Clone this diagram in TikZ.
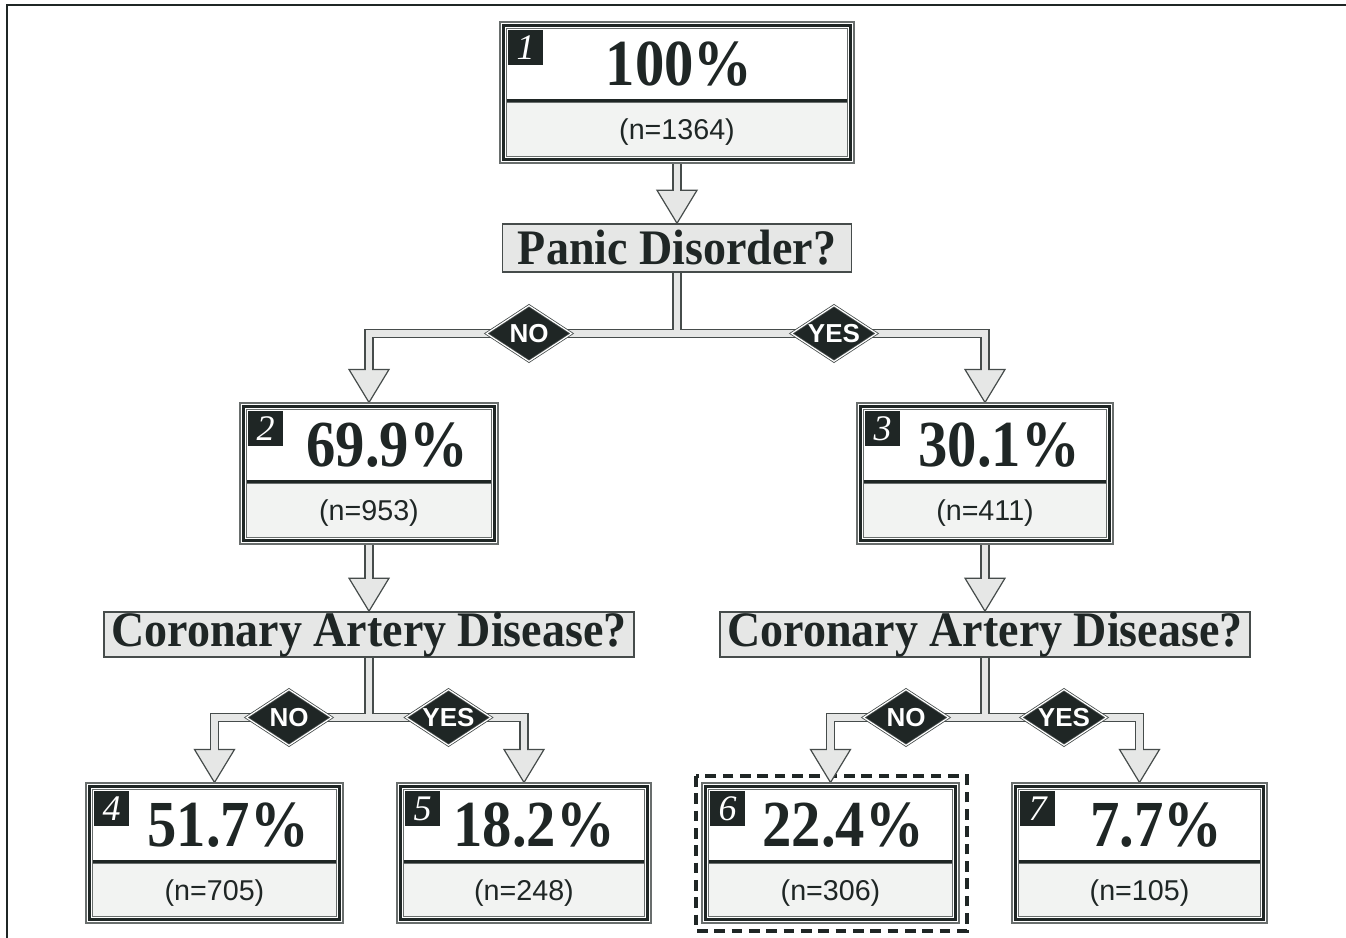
\documentclass[tikz,border=0pt]{standalone}
\usepackage{fontspec}
\usepackage{graphicx}
\setmainfont{Liberation Serif}
\setsansfont{Liberation Sans}
\usetikzlibrary{shapes.geometric,calc}
\definecolor{ink}{RGB}{31,38,37}
\definecolor{pipeline}{RGB}{70,76,75}
\definecolor{pipefill}{RGB}{230,231,230}
\definecolor{subfill}{RGB}{242,243,242}
\definecolor{edgegray}{RGB}{105,110,109}
\pgfdeclarelayer{pipes}
\pgfsetlayers{pipes,main}
\newcommand\zerobox[1]{\makebox[0pt]{\raisebox{-0.5\height}[0pt][0pt]{#1}}}
\tikzset{
  boxnode/.style={draw=edgegray, line width=0.8pt, fill=white, inner sep=0pt, rectangle},
  badgest/.style={fill=ink, text=white, inner sep=0pt, minimum width=26.25pt, minimum height=26.25pt, font=\fontsize{27}{27}\selectfont\itshape},
  pctst/.style={inner sep=0pt, text=ink, font=\fontsize{44}{44}\selectfont\bfseries},
  nst/.style={inner sep=0pt, text=ink, font=\sffamily\fontsize{21.5}{22}\selectfont},
  qst/.style={draw=pipeline, line width=1.1pt, fill=pipefill, inner sep=0pt, text=ink, font=\fontsize{34.5}{35}\selectfont\bfseries},
  dst/.style={diamond, fill=ink, draw=pipeline, double=white, double distance=0.9pt, line width=0.6pt, inner sep=0pt, minimum width=64pt, minimum height=42pt, text=white, font=\sffamily\bfseries\fontsize{19.5}{19.5}\selectfont},
  pipeo/.style={draw=pipeline, line width=7.1pt, line join=miter},
  pipei/.style={draw=pipefill, line width=4.8pt, line join=miter},
  headst/.style={fill=pipefill, draw=pipeline, line width=0.9pt, line join=miter},
  hilite/.style={draw=ink, line width=2.3pt, dash pattern=on 8pt off 5pt},
}
% name, x1, y1, x2, y2, number, percent, percent x, n text
\newcommand\mkbox[9]{%
  \node[boxnode, minimum width={(#4-#2)*0.75pt}, minimum height={(#5-#3)*0.75pt}] (#1) at ({(#2+#4)/2},{(#3+#5)/2}) {};
  \fill[subfill] (#2+6,#3+79) rectangle (#4-6,#5-6);
  \draw[ink, line width=1.6pt] (#2+6,#3+78.5) -- (#4-6,#3+78.5);
  \draw[edgegray, line width=0.6pt] (#2+6,#3+80.8) -- (#4-6,#3+80.8);
  \draw[ink, line width=1.9pt] (#2+3.6,#3+3.6) rectangle (#4-3.6,#5-3.6);
  \draw[edgegray, line width=0.6pt] (#2+6.2,#3+6.2) rectangle (#4-6.2,#5-6.2);
  \node[badgest] (#1num) at (#2+25.5,#3+25.5) {#6};
  \node[pctst] (#1pct) at (#8,#3+42) {\scalebox{1}[1.12]{#7}};
  \node[nst] (#1n) at ({(#2+#4)/2},#3+110) {#9};
}
\newcommand\pipenet[2]{%
  \draw[#1] (b1.south) -- ($(q1.north)+(0,#2)$);
  \draw[#1] (q1.south) -- (q1.south |- dn1.center);
  \draw[#1] ($(b2.north)+(0,#2)$) -- (b2.north |- dn1.center) -- (b3.north |- dn1.center) -- ($(b3.north)+(0,#2)$);
  \draw[#1] (b2.south) -- ($(q2.north)+(0,#2)$);
  \draw[#1] (b3.south) -- ($(q3.north)+(0,#2)$);
  \draw[#1] (q2.south) -- (q2.south |- dn2.center);
  \draw[#1] ($(b4.north)+(0,#2)$) -- (b4.north |- dn2.center) -- (b5.north |- dn2.center) -- ($(b5.north)+(0,#2)$);
  \draw[#1] (q3.south) -- (q3.south |- dn3.center);
  \draw[#1] ($(b6.north)+(0,#2)$) -- (b6.north |- dn3.center) -- (b7.north |- dn3.center) -- ($(b7.north)+(0,#2)$);
}
\begin{document}
\begin{tikzpicture}[x=0.75pt,y=-0.75pt]
\useasboundingbox (0,0) rectangle (1346,938);
\draw[ink, line width=1.4pt] (1346,5) -- (7,5) -- (7,938);

\mkbox{b1}{500}{22}{854}{163}{1}{100\%}{679}{(n=1364)}
\mkbox{b2}{240}{403}{498}{544}{2}{69.9\%}{387}{(n=953)}
\mkbox{b3}{857}{403}{1113}{544}{3}{30.1\%}{999}{(n=411)}
\mkbox{b4}{86}{783}{343}{923}{4}{51.7\%}{228}{(n=705)}
\mkbox{b5}{397}{783}{651}{923}{5}{18.2\%}{534}{(n=248)}
\mkbox{b6}{702}{783}{959}{923}{6}{22.4\%}{843}{(n=306)}
\mkbox{b7}{1012}{783}{1267}{923}{7}{7.7\%}{1156}{(n=105)}

\node[qst, minimum width=261.75pt, minimum height=36pt] (q1) at (677,248) {\scalebox{1}[1.08]{Panic Disorder?}};
\node[qst, minimum width=397.5pt, minimum height=33.75pt] (q2) at (369,634.5) {\scalebox{1}[1.08]{Coronary Artery Disease?}};
\node[qst, minimum width=397.5pt, minimum height=33.75pt] (q3) at (985,634.5) {\scalebox{1}[1.08]{Coronary Artery Disease?}};

\node[dst] (dn1) at (529,333.5) {\zerobox{NO}};
\node[dst] (dy1) at (834,333.5) {\zerobox{YES}};
\node[dst] (dn2) at (289,717.5) {\zerobox{NO}};
\node[dst] (dy2) at (448.5,717.5) {\zerobox{YES}};
\node[dst] (dn3) at (906,717.5) {\zerobox{NO}};
\node[dst] (dy3) at (1064,717.5) {\zerobox{YES}};

\begin{pgfonlayer}{pipes}
  \fill[white] (0,0) rectangle (1346,938);
  \draw[hilite] (696,776) rectangle (967,931);
  \pipenet{pipeo}{-32}
  \foreach \t in {q1,b2,b3,q2,q3,b4,b5,b6,b7}
    \draw[headst] ($(\t.north)+(-20,-33)$) -- ($(\t.north)+(20,-33)$) -- (\t.north) -- cycle;
  \pipenet{pipei}{-31}
\end{pgfonlayer}
\end{tikzpicture}
\end{document}
